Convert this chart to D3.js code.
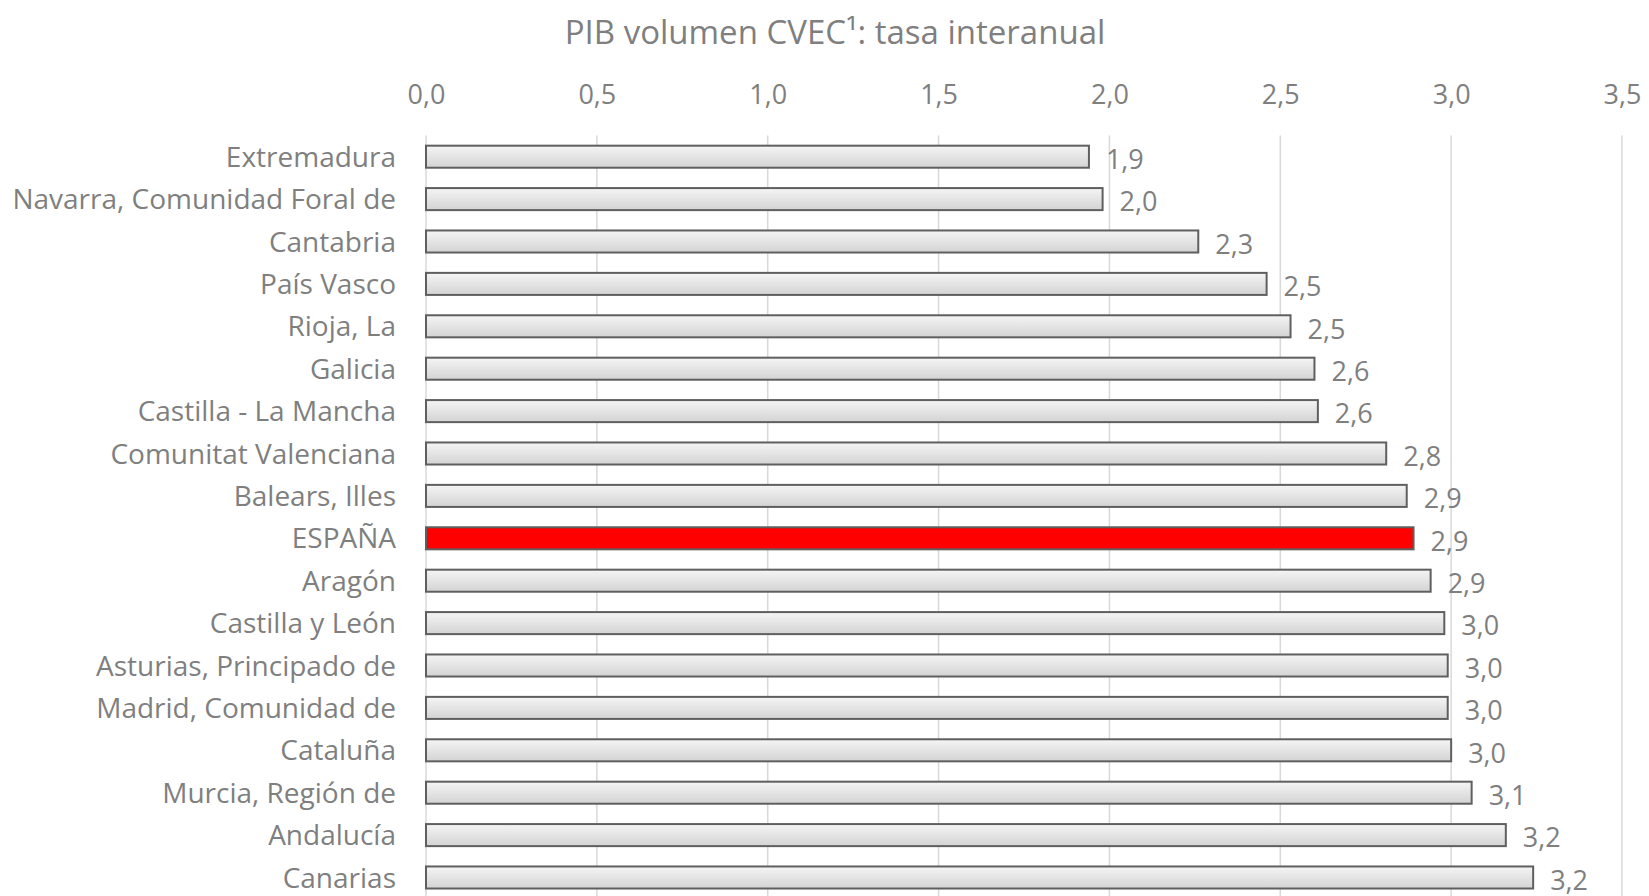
<!DOCTYPE html>
<html>
<head>
<meta charset="utf-8">
<script src="https://cdn.jsdelivr.net/npm/d3@7"></script>
<style>
  body { margin: 0; background: #fff; }
  text { font-family: "Open Sans", sans-serif; fill: #7f7f7f; }
</style>
</head>
<body>
<div id="chart"></div>
<script>
// regiones, de menor a mayor tasa
const regions = [
  "Extremadura", "Navarra, Comunidad Foral de", "Cantabria", "País Vasco",
  "Rioja, La", "Galicia", "Castilla - La Mancha", "Comunitat Valenciana",
  "Balears, Illes", "ESPAÑA", "Aragón", "Castilla y León",
  "Asturias, Principado de", "Madrid, Comunidad de", "Cataluña",
  "Murcia, Región de", "Andalucía", "Canarias"
];
const rates = [
  1.94, 1.98, 2.26, 2.46, 2.53, 2.60, 2.61, 2.81, 2.87, 2.89,
  2.94, 2.98, 2.99, 2.99, 3.00, 3.06, 3.16, 3.24
];
const xTicks = [0, 0.5, 1, 1.5, 2, 2.5, 3, 3.5];
const highlight = "ESPAÑA";
const title = "PIB volumen CVEC¹: tasa interanual";

const width = 1649, height = 896;
const plot = { left: 426, right: 1622, top: 135.5, bottom: 898.7 };

const svg = d3.select("#chart").append("svg")
  .attr("width", width)
  .attr("height", height);

const grad = svg.append("defs").append("linearGradient")
  .attr("id", "barFill")
  .attr("x1", 0).attr("y1", 0).attr("x2", 0).attr("y2", 1);
grad.append("stop").attr("offset", "0%").attr("stop-color", "#f5f5f5");
grad.append("stop").attr("offset", "100%").attr("stop-color", "#d3d3d3");

const x = d3.scaleLinear().domain([0, 3.5]).range([plot.left, plot.right]);
const y = d3.scaleBand()
  .domain(regions)
  .range([plot.top, plot.bottom])
  .paddingInner(0.48)
  .paddingOuter(0.24);

const fmt = v => d3.format(".1f")(v).replace(".", ",");

// rejilla vertical
svg.append("g")
  .selectAll("line")
  .data(xTicks)
  .enter()
  .append("line")
  .attr("x1", d => x(d)).attr("x2", d => x(d))
  .attr("y1", plot.top).attr("y2", plot.bottom)
  .attr("stroke", "#d9d9d9")
  .attr("stroke-width", 1.5);

// etiquetas del eje superior
const xAxis = d3.axisTop(x).tickValues(xTicks).tickFormat(fmt).tickSize(0).tickPadding(0);
const gx = svg.append("g")
  .attr("transform", "translate(0,104)")
  .call(xAxis);
gx.select(".domain").remove();
gx.selectAll("text")
  .attr("font-size", 27)
  .attr("fill", "#7f7f7f")
  .attr("font-family", "Open Sans, sans-serif");

// etiquetas de categorías
const yAxis = d3.axisLeft(y).tickSize(0).tickPadding(0);
const gy = svg.append("g")
  .attr("transform", "translate(396,0)")
  .call(yAxis);
gy.select(".domain").remove();
gy.selectAll("text")
  .attr("font-size", 28)
  .attr("fill", "#7f7f7f")
  .attr("font-family", "Open Sans, sans-serif")
  .attr("dy", "0.36em");

// barras
svg.append("g")
  .selectAll("rect")
  .data(regions)
  .enter()
  .append("rect")
  .attr("x", x(0))
  .attr("y", d => y(d))
  .attr("width", (d, i) => x(rates[i]) - x(0))
  .attr("height", y.bandwidth())
  .attr("fill", d => d === highlight ? "#ff0000" : "url(#barFill)")
  .attr("stroke", "#5f5f5f")
  .attr("stroke-width", 2);

// etiquetas de datos
svg.append("g")
  .selectAll("text")
  .data(regions)
  .enter()
  .append("text")
  .attr("x", (d, i) => x(rates[i]) + 17)
  .attr("y", d => y(d) + y.bandwidth() / 2 + 2.5)
  .attr("dy", "0.36em")
  .attr("font-size", 27)
  .text((d, i) => fmt(rates[i]));

svg.append("text")
  .attr("x", 835)
  .attr("y", 44)
  .attr("text-anchor", "middle")
  .attr("font-size", 33)
  .text(title);
</script>
</body>
</html>
